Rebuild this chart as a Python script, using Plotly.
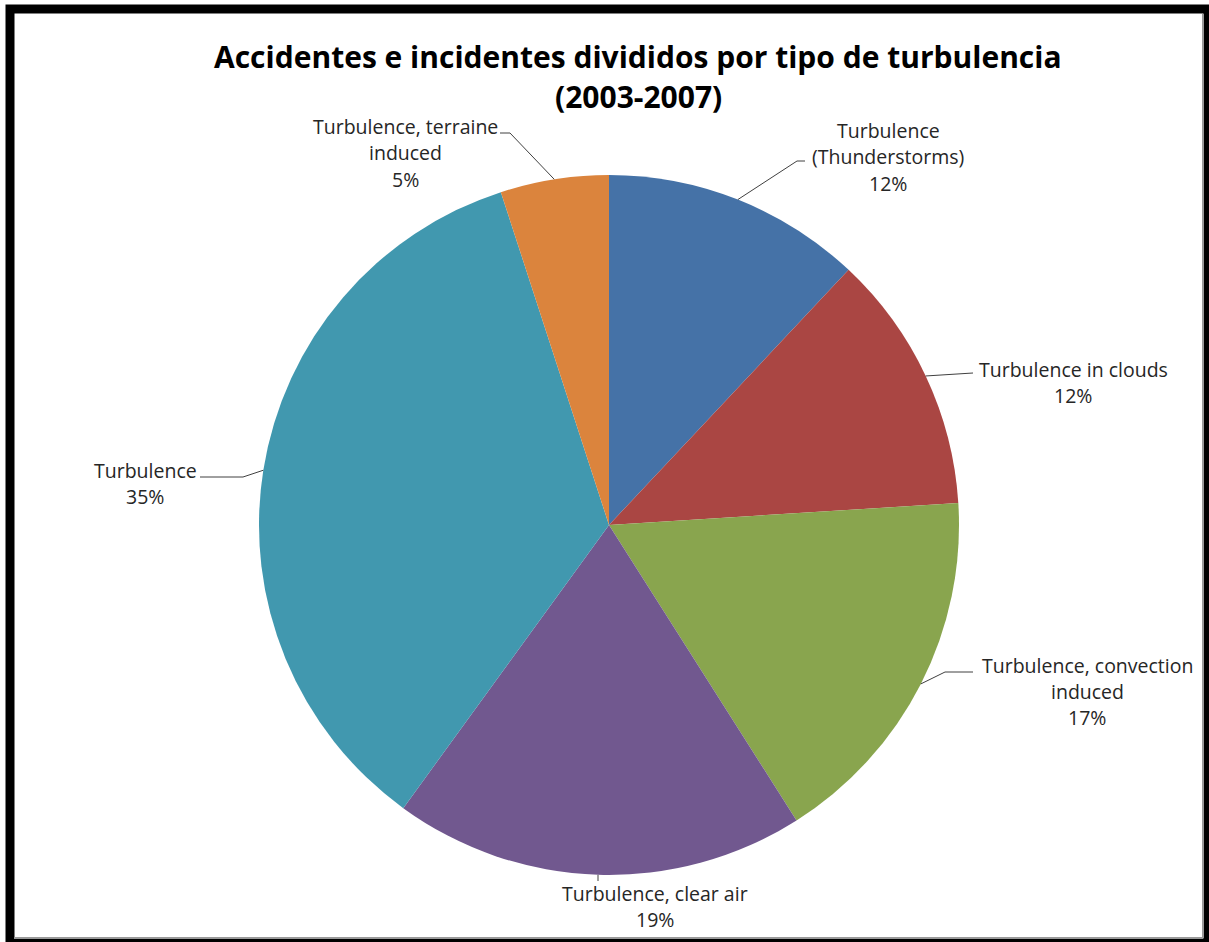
import math
import plotly.graph_objects as go

# Slice data (clockwise from 12 o'clock)
categories = [
    "Turbulence (Thunderstorms)",
    "Turbulence in clouds",
    "Turbulence, convection induced",
    "Turbulence, clear air",
    "Turbulence",
    "Turbulence, terraine induced",
]
percentages = [12, 12, 17, 19, 35, 5]
label_lines = [
    ["Turbulence", "(Thunderstorms)"],
    ["Turbulence in clouds"],
    ["Turbulence, convection", "induced"],
    ["Turbulence, clear air"],
    ["Turbulence"],
    ["Turbulence, terraine", "induced"],
]
colors = ["#4572A7", "#AA4643", "#89A54E", "#71588F", "#4198AF", "#DB843D"]

W, H = 1209, 942
CX, CY, R = 609, 525, 350


def px(x):
    return x / W


def py(y):
    return 1 - y / H


# label placement: text centre x, first line y, leader elbow, leader end
label_layout = [
    dict(x=888, y=131, elbow=(797, 161), end=(805, 161)),
    dict(x=1073, y=369, elbow=None, end=(973, 373)),
    dict(x=1087, y=665, elbow=(945, 672), end=(973, 672)),
    dict(x=655, y=893, elbow=None, end=None),
    dict(x=145, y=470, elbow=(243, 477), end=(200, 477)),
    dict(x=405, y=127, elbow=(510, 133), end=(500, 133)),
]
LINE_GAP = 26
LABEL_FONT = dict(family="Open Sans", size=19.5, color="#262626")

fig = go.Figure(
    go.Pie(
        labels=categories,
        values=percentages,
        marker=dict(colors=colors, line=dict(width=0)),
        sort=False,
        direction="clockwise",
        rotation=0,
        textinfo="none",
        hoverinfo="label+percent",
        showlegend=False,
        domain=dict(x=[px(CX - R), px(CX + R)], y=[py(CY + R), py(CY - R)]),
    )
)

annotations = []
shapes = []

total = sum(percentages)
cum = 0
for i, v in enumerate(percentages):
    mid = (cum + v / 2) / total * 2 * math.pi
    cum += v
    ex = CX + R * math.sin(mid)
    ey = CY - R * math.cos(mid)
    lay = label_layout[i]
    lines = label_lines[i] + [f"{v}%"]
    for k, t in enumerate(lines):
        annotations.append(dict(
            x=px(lay["x"]), y=py(lay["y"] + k * LINE_GAP),
            xref="paper", yref="paper", text=t, showarrow=False,
            xanchor="center", yanchor="middle", font=LABEL_FONT,
        ))
    # leader line from slice edge to the label
    pts = [(ex, ey)]
    if lay["end"] is None:
        pts.append((ex, lay["y"] - 12))
    else:
        if lay["elbow"] is not None:
            pts.append(lay["elbow"])
        pts.append(lay["end"])
    path = "M " + " L ".join(f"{px(a)},{py(b)}" for a, b in pts)
    shapes.append(dict(type="path", path=path, xref="paper", yref="paper",
                       line=dict(color="#404040", width=1)))

# chart title (two lines)
title_font = dict(family="Open Sans", size=30, color="#000000")
annotations.append(dict(x=px(638), y=py(57), xref="paper", yref="paper",
                        text="<b>Accidentes e incidentes divididos por tipo de turbulencia</b>",
                        showarrow=False, xanchor="center", yanchor="middle", font=title_font))
annotations.append(dict(x=px(638), y=py(97), xref="paper", yref="paper",
                        text="<b>(2003-2007)</b>",
                        showarrow=False, xanchor="center", yanchor="middle", font=title_font))

# chart frame with shadowed border
shapes.append(dict(type="rect", xref="paper", yref="paper",
                   x0=px(10), x1=px(1208), y0=py(943), y1=py(9),
                   line=dict(color="#000000", width=9)))
shapes.append(dict(type="line", xref="paper", yref="paper",
                   x0=px(1203), x1=px(1203), y0=py(14), y1=py(938),
                   line=dict(color="#9a9a9a", width=2)))
shapes.append(dict(type="line", xref="paper", yref="paper",
                   x0=px(14), x1=px(1203), y0=py(938), y1=py(938),
                   line=dict(color="#9a9a9a", width=2)))

fig.update_layout(
    width=W, height=H,
    margin=dict(l=0, r=0, t=0, b=0),
    paper_bgcolor="#ffffff",
    plot_bgcolor="#ffffff",
    annotations=annotations,
    shapes=shapes,
)

fig.write_html("out.html")
